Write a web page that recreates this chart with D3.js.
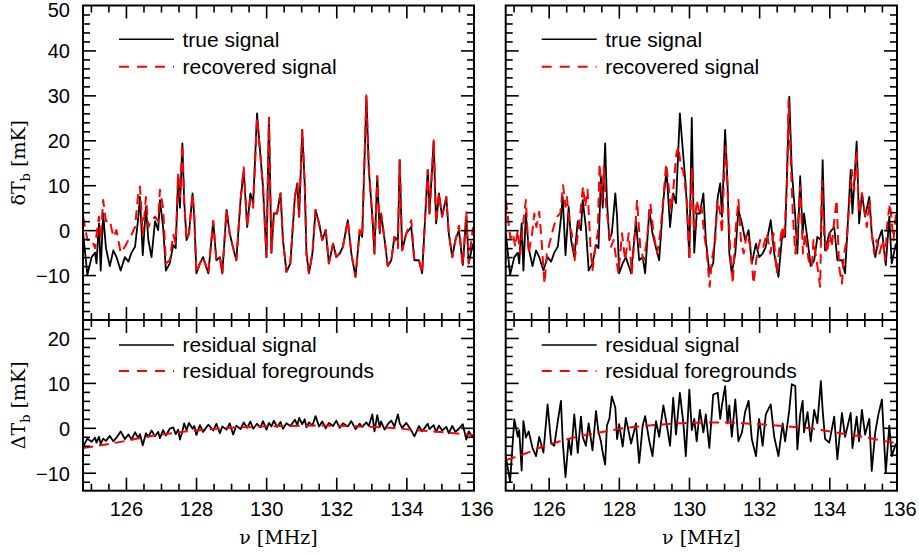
<!DOCTYPE html>
<html lang="en">
<head>
<meta charset="UTF-8">
<title>True vs recovered 21cm signal</title>
<script src="https://d3js.org/d3.v7.min.js"></script>
<style>
  body { margin: 0; background: #fff; }
  svg text { font-family: 'Liberation Sans', Arial, sans-serif; }
  .legend text { font-size: 21px; }
  .axis-title { font-family: 'DejaVu Serif', serif; font-size: 19px; }
</style>
</head>
<body>
<svg id="chart" width="919" height="554"></svg>
<script>
// frequency channels (MHz)
const nu = [
  124.78, 124.90, 125.02, 125.12, 125.16, 125.23, 125.28, 125.35, 125.43, 125.54,
  125.64, 125.73, 125.85, 125.97, 126.07, 126.16, 126.26, 126.35, 126.40, 126.48,
  126.57, 126.64, 126.73, 126.83, 126.92, 126.97, 127.06, 127.14, 127.25, 127.35,
  127.42, 127.49, 127.54, 127.61, 127.66, 127.73, 127.80, 127.90, 127.95, 128.01,
  128.11, 128.20, 128.35, 128.49, 128.58, 128.68, 128.75, 128.87, 128.96, 129.06,
  129.15, 129.27, 129.36, 129.46, 129.55, 129.63, 129.74, 129.84, 129.91, 130.01,
  130.08, 130.15, 130.22, 130.31, 130.41, 130.48, 130.58, 130.69, 130.82, 130.89,
  130.94, 131.03, 131.10, 131.15, 131.22, 131.32, 131.41, 131.51, 131.60, 131.70,
  131.79, 131.91, 132.00, 132.10, 132.19, 132.33, 132.43, 132.55, 132.67, 132.74,
  132.86, 132.93, 133.03, 133.09, 133.17, 133.24, 133.28, 133.38, 133.47, 133.57,
  133.66, 133.76, 133.81, 133.88, 134.00, 134.14, 134.23, 134.36, 134.45, 134.61,
  134.66, 134.78, 134.85, 134.93, 135.02, 135.14, 135.21, 135.31, 135.40, 135.50,
  135.61, 135.71, 135.78, 135.90
];

// true signal dTb (mK), same in both columns
const trueSignal = [
  -0.7, -10, -6, -5, -7.4, 1.5, -9, 3.7, -4, -8,
  -4.5, -6, -9, -6, -7, -5, -3.7, 2.6, 7.4, -5.6,
  5.2, -2.2, -6, 2, 0, 6.7, 0.7, -9, -7.4, -3.3,
  -4, 12, 5, 19.3, 6.7, -2.2, -0.7, 8.2, 3, -9.6,
  -7.4, -6, -9.6, 2, -6.7, -6, -9.6, 4.5, -0.7, -4,
  -6.7, 6.7, 13.4, 0.7, 8.2, 6, 26, 16.3, 9.7, -6,
  25, -5, 3.7, 3.7, 8.2, -2.2, -9.3, -7.4, 7.4, 10.4,
  3, 22.3, 10.4, -5.2, -9.6, -5.2, 4.5, 1.5, -2.2, 0,
  -7.4, -3, -6, -5.2, -3.7, 2.2, -5.2, -10.4, 0, -1.5,
  29.7, 13.4, 3, -5.2, 12, -0.7, 3.7, -2.2, -8, -6.7,
  -1.5, -2.2, 15.6, -4.5, -0.7, 0.7, -6.7, -6.7, -9.6, 13.4,
  3.7, 19.7, 1.5, 8.2, 3, 7.4, -0.7, -6, -2.2, 0,
  -7.8, 3, -7.4, -3
];

// recovered signal, left column
const recoveredLeft = [
  3, -2.2, -2, -4, -1, 3, -2, 6.7, 2, 2.2,
  -1.5, 0, -5, -3.7, -2.2, -1, 0.7, 8, 9.7, -1,
  7.4, 0.7, 2.2, 3, 2, 9, 5, -7.4, -6.7, -1,
  -3, 12.6, 7.4, 19.3, 6.7, -2.2, -0.7, 8.2, 3, -9.6,
  -7.4, -6, -9.6, 2, -6.7, -6, -9.6, 4.5, -0.7, -4,
  -6.7, 6.7, 14, 0.7, 7, 5, 25, 16.3, 9.7, -6,
  25, -5, 3.7, 3.7, 8.2, -2.2, -9.3, -7.4, 7.4, 10.4,
  3, 22.3, 10.4, -5.2, -9.6, -5.2, 4.5, 1.5, -2.2, 0,
  -7.4, -3, -6, -5.2, -3.7, 2.2, -5.2, -10.4, 0, -1.5,
  30, 13.4, 3, -5.2, 12, -0.7, 3.7, -2.2, -8, -6.7,
  -1.5, -4, 15.6, -4.5, -0.7, 2.2, -6.7, -6.7, -9.6, 13.4,
  3.7, 20, 1.5, 8.2, 3, 7.4, -0.7, -6, -2.2, 1,
  -7.8, 4, -7.4, 0.7
];

// recovered signal, right column (own channel readings)
const nuRight = [
  124.78, 124.91, 124.98, 125.05, 125.12, 125.19, 125.26, 125.35, 125.43, 125.53,
  125.59, 125.65, 125.73, 125.79, 125.88, 125.95, 126.05, 126.14, 126.24, 126.33,
  126.41, 126.48, 126.52, 126.60, 126.66, 126.74, 126.81, 126.90, 126.98, 127.04,
  127.11, 127.19, 127.25, 127.33, 127.40, 127.45, 127.52, 127.57, 127.64, 127.71,
  127.78, 127.85, 127.93, 127.99, 128.09, 128.18, 128.28, 128.37, 128.47, 128.52,
  128.61, 128.71, 128.80, 128.90, 128.99, 129.09, 129.18, 129.28, 129.35, 129.42,
  129.49, 129.56, 129.64, 129.70, 129.77, 129.83, 129.89, 129.94, 130.01, 130.08,
  130.15, 130.22, 130.30, 130.36, 130.43, 130.51, 130.59, 130.65, 130.75, 130.81,
  130.89, 130.94, 130.99, 131.05, 131.11, 131.18, 131.25, 131.32, 131.41, 131.48,
  131.56, 131.65, 131.75, 131.84, 131.94, 132.03, 132.12, 132.22, 132.32, 132.41,
  132.50, 132.58, 132.65, 132.71, 132.79, 132.84, 132.90, 132.96, 133.03, 133.09,
  133.17, 133.25, 133.31, 133.41, 133.50, 133.55, 133.65, 133.74, 133.79, 133.85,
  133.93, 134.01, 134.07, 134.14, 134.21, 134.28, 134.36, 134.42, 134.50, 134.58,
  134.64, 134.71, 134.78, 134.85, 134.93, 134.99, 135.07, 135.15, 135.21, 135.28,
  135.35, 135.43, 135.53, 135.59, 135.66, 135.73, 135.83, 135.90
];
const recoveredRight = [
  6.7, -1.9, -0.7, -3.7, 0, -5.2, 0.7, 6.7, -5.2, -0.7,
  3.7, 0.7, 4.1, -1.5, -11.9, -5.2, -2.2, 0.7, 3, 3.7,
  10, 5.2, 7.4, 0.7, -0.7, -6.7, -2.2, 3.7, 9.7, 5.2,
  9, -3.7, -8.9, -3.7, -0.7, 14.8, 6.7, 14, 5.2, 0.7,
  -3.7, -2.2, -6.7, -9.6, -0.7, -6.7, -0.7, -9.6, 0.7, 6.7,
  -3.7, -6.7, -2.2, 5.9, -0.7, -5.2, -0.7, 8.2, 14.8, 9.7,
  4.5, 9.7, 17, 18.6, 14, 13.4, 9.7, 6.7, -6.7, 14,
  -0.7, 6.7, 3.7, 5.2, -0.7, -5.2, -12.6, -6.7, -2.2, 6.7,
  3.7, -0.7, 9.7, 18.6, 6.7, -5.2, -11.9, -0.7, 6.7, -2.2,
  -5.2, -0.7, -3.7, -11.9, -5.2, -2.2, -3.7, -0.7, -5.2, -0.7,
  -9.6, -3.7, 0.7, -2.2, 9.7, 29, 15.6, 3.7, -5.2, -0.7,
  9.7, -5.2, -0.7, -6.7, -8.2, -2.2, -7.4, -12.6, 11, -0.7,
  -5.2, -0.7, -3.7, 2.2, 6.7, -8.2, -11.9, -5.2, -2.2, 6.7,
  13.4, 9, 17.8, 3.7, 8.2, 5.2, 0.7, 6.7, -0.7, -5.2,
  -2.2, -5.2, -2.2, -6.7, 2.2, 5.9, -2.2, 3.7
];

// residual signal dTb (mK)
const residualLeft = [
  -4.2, -2.4, -3.1, -2.2, -3.3, -2.0, -3.6, -2.4, -2.9, -1.8,
  -3.0, -2.2, -0.8, -2.5, -1.5, -2.6, -1.0, -2.2, -1.4, -3.9,
  -1.2, -2.0, -0.6, -1.9, -0.9, -2.3, -0.5, -1.7, -0.2, 0.1,
  -1.4, -0.4, -2.6, -0.8, 1.0, -0.5, 1.1, -0.2, 0.4, -1.6,
  0.6, -0.9, 0.7, -0.6, 0.9, -1.2, 0.3, -0.4, 1.0, -1.5,
  0.5, -0.3, 1.2, 0.0, 1.4, -0.2, 0.9, 0.1, 1.5, -0.4,
  1.1, 0.3, 1.6, 0.2, 1.3, -0.2, 1.0, 0.4, 1.8, 0.6,
  2.2, 0.8, 1.9, 0.1, 1.2, 0.5, 2.6, 0.3, 1.4, -0.1,
  1.1, 0.4, 1.6, 0.0, 1.0, 0.3, 1.5, -0.3, 0.9, 0.2,
  1.2, 0.4, 3.0, -0.8, 2.8, 0.2, 1.4, -0.4, 0.8, 1.6,
  0.3, 3.0, 1.0, 0.0, 1.1, -0.6, -1.9, 0.4, -0.8, 0.9,
  -0.3, 0.6, -0.9, 0.5, -0.6, 0.2, -1.2, 0.4, -0.9, -0.2,
  0.8, -2.6, -0.8, -2.2
];
const residualRight = [
  -6.5, -12.0, 1.9, -2.0, -0.5, -9.5, 1.5, -2.2, -0.8, -4.5,
  -6.3, -2.0, -5.5, 5.2, -3.5, -4.0, 1.5, 6.0, -3.0, -11.0,
  -2.5, -6.0, 3.0, -5.6, 2.5, -2.0, -4.0, 1.0, -5.0, 3.7,
  -1.0, -3.0, -5.5, -8.2, 0.5, 2.0, 7.0, 4.5, -2.5, 0.8,
  -4.2, 2.2, -3.5, 1.0, -7.8, 0.5, 2.6, -3.0, -6.3, 1.5,
  -2.0, 5.0, 1.0, -4.0, 6.7, -1.5, 7.8, 1.0, -6.3, 8.5,
  -0.5, 2.0, -3.0, 4.0, -1.0, 3.0, -4.5, 7.4, 7.8, 2.0,
  5.0, 9.3, 1.0, 5.0, -2.0, 6.3, -3.0, -1.0, 3.5, 6.0,
  -2.5, -6.3, 2.0, -4.0, 3.0, 5.2, -2.0, -6.3, 1.0, -3.0,
  4.0, 9.7, 9.3, -4.8, 3.0, 6.0, -1.0, 3.5, -3.0, 4.0,
  1.0, 10.4, 4.0, -2.5, -3.3, 2.5, -7.0, 3.3, -2.0, 3.3,
  -4.5, 2.5, -3.0, 4.0, -1.5, 2.0, -9.6, -1.0, 3.0, 6.3,
  -10.0, 0.5, -6.3, -3.5
];

// residual foregrounds (smooth)
const nuFgLeft = [124.78, 125.73, 126.68, 127.63, 128.58, 129.53, 130.48, 131.43, 132.38, 133.33, 134.28, 135.23, 135.90];
const fgLeft = [-4.5, -3.3, -1.9, -0.9, -0.2, 0.2, 0.4, 0.5, 0.4, 0.1, -0.5, -1.1, -1.6];
const nuFgRight = [124.78, 125.38, 125.85, 126.33, 126.80, 127.28, 127.75, 128.23, 128.70, 129.18, 129.65, 130.13, 130.60,
                   131.08, 131.55, 132.03, 132.50, 132.98, 133.45, 133.93, 134.40, 134.88, 135.35, 135.93];
const fgRight = [-7.2, -5.6, -4.1, -3.0, -2.0, -1.3, -0.6, 0.0, 0.4, 0.7, 1.0, 1.1, 1.2,
                 1.2, 1.0, 0.8, 0.5, 0.2, -0.1, -0.7, -1.3, -1.9, -2.6, -3.5];

const xLabels = [126, 128, 130, 132, 134, 136];
const topLabels = [-10, 0, 10, 20, 30, 40, 50];
const bottomLabels = [-10, 0, 10, 20];

const svg = d3.select("#chart");
const columns = [{ x0: 83, x1: 474 }, { x0: 505.7, x1: 897 }];
const rows = [
  { y0: 5.5, y1: 320, domain: [-20, 50], labels: topLabels, legend: ["true signal", "recovered signal"], title: ["\u03B4T", "b"] },
  { y0: 320, y1: 490.7, domain: [-14, 24], labels: bottomLabels, legend: ["residual signal", "residual foregrounds"], title: ["\u0394T", "b"] }
];
const xDomain = [124.775, 135.93];
const xMinor = d3.range(125, 136, 0.5).filter(v => v % 2 !== 0);
const xMajor = [126, 128, 130, 132, 134];

function styleAxis(g) {
  g.select(".domain").remove();
  g.selectAll(".tick line").attr("stroke", "#000").attr("stroke-width", 1.6);
  g.attr("font-size", 20).attr("font-family", "'Liberation Sans', Arial, sans-serif");
  g.selectAll(".tick text").attr("fill", "#000");
}

const line = (x, y) => d3.line().x(d => x(d[0])).y(d => y(d[1]));

columns.forEach((col, ci) => {
  const x = d3.scaleLinear().domain(xDomain).range([col.x0, col.x1]);

  rows.forEach((row, ri) => {
    const y = d3.scaleLinear().domain(row.domain).range([row.y1, row.y0]);
    const yMajor = row.labels.filter(v => v > row.domain[0] && v < row.domain[1]);
    const yMinor = d3.range(row.domain[0] + 2, row.domain[1], 2).filter(v => v % 10 !== 0);
    const clipId = `clip-${ci}-${ri}`;

    svg.append("clipPath").attr("id", clipId).append("rect")
      .attr("x", col.x0).attr("y", row.y0).attr("width", col.x1 - col.x0).attr("height", row.y1 - row.y0);

    const plot = svg.append("g").attr("clip-path", `url(#${clipId})`);

    let blackData, redData;
    if (ri === 0) {
      blackData = nu.map((v, i) => [v, trueSignal[i]]);
      redData = ci === 0 ? nu.map((v, i) => [v, recoveredLeft[i]]) : nuRight.map((v, i) => [v, recoveredRight[i]]);
    } else {
      blackData = nu.map((v, i) => [v, (ci === 0 ? residualLeft : residualRight)[i]]);
      redData = ci === 0 ? nuFgLeft.map((v, i) => [v, fgLeft[i]]) : nuFgRight.map((v, i) => [v, fgRight[i]]);
    }
    const redLine = ri === 1 ? line(x, y).curve(d3.curveMonotoneX) : line(x, y);

    plot.append("path").datum(blackData).attr("d", line(x, y))
      .attr("fill", "none").attr("stroke", "#000").attr("stroke-width", 1.8).attr("stroke-linejoin", "round");
    plot.append("path").datum(redData).attr("d", redLine)
      .attr("fill", "none").attr("stroke", "#ff0000").attr("stroke-width", 2)
      .attr("stroke-dasharray", "10,6").attr("stroke-linejoin", "round");

    // ticks on all four sides, pointing inward
    const sides = [
      [d3.axisTop(x), row.y0, "x"], [d3.axisBottom(x), row.y1, "x"],
      [d3.axisLeft(y), col.x0, "y"], [d3.axisRight(y), col.x1, "y"]
    ];
    sides.forEach(([ax, pos, dim]) => {
      [[dim === "x" ? xMajor : yMajor, 13], [dim === "x" ? xMinor : yMinor, 7]].forEach(([vals, len]) => {
        const g = svg.append("g")
          .attr("transform", dim === "x" ? `translate(0,${pos})` : `translate(${pos},0)`);
        g.call(ax.tickValues(vals).tickSize(-len).tickFormat(""));
        styleAxis(g);
      });
    });

    // tick labels
    if (ci === 0) {
      const g = svg.append("g").attr("transform", `translate(${col.x0},0)`);
      g.call(d3.axisLeft(y).tickValues(row.labels).tickSize(0).tickPadding(13));
      styleAxis(g);
      g.selectAll(".tick text").attr("y", 1).filter(d => d === row.domain[1]).attr("y", 5);
    }
    if (ri === 1) {
      const g = svg.append("g").attr("transform", `translate(0,${row.y1})`);
      g.call(d3.axisBottom(x).tickValues(xLabels).tickSize(0).tickPadding(11));
      styleAxis(g);
    }

    // frame
    svg.append("rect").attr("x", col.x0).attr("y", row.y0)
      .attr("width", col.x1 - col.x0).attr("height", row.y1 - row.y0)
      .attr("fill", "none").attr("stroke", "#000").attr("stroke-width", 2);

    // legend
    const lg = svg.append("g").attr("class", "legend");
    const ly = ri === 0 ? [39.3, 66.7] : [345, 371];
    row.legend.forEach((label, k) => {
      lg.append("line").attr("x1", col.x0 + 36).attr("x2", col.x0 + 91).attr("y1", ly[k]).attr("y2", ly[k])
        .attr("stroke", k === 0 ? "#000" : "#ff0000").attr("stroke-width", k === 0 ? 1.6 : 2)
        .attr("stroke-dasharray", k === 0 ? null : "10,8");
      lg.append("text").attr("x", col.x0 + 99.5).attr("y", ly[k]).attr("dy", "0.35em").text(label);
    });

    // y title (left column only)
    if (ci === 0) {
      const t = svg.append("text").attr("class", "axis-title").attr("text-anchor", "middle")
        .attr("transform", `translate(25,${(row.y0 + row.y1) / 2}) rotate(-90)`);
      t.append("tspan").text(row.title[0]);
      t.append("tspan").attr("font-size", 13).attr("dy", 5).text(row.title[1]);
      t.append("tspan").attr("dy", -5).text(" [mK]");
    }
  });

  // x title
  svg.append("text").attr("class", "axis-title").attr("text-anchor", "middle")
    .attr("x", (col.x0 + col.x1) / 2).attr("y", 544).text("\u03BD [MHz]");
});
</script>
</body>
</html>
